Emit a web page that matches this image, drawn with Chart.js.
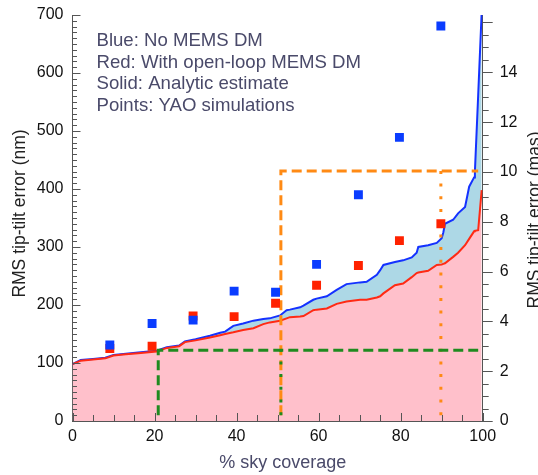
<!DOCTYPE html>
<html><head><meta charset="utf-8">
<script src="https://cdn.jsdelivr.net/npm/chart.js@4/dist/chart.umd.min.js"></script>
<style>html,body{margin:0;padding:0;background:#fff;overflow:hidden}canvas{display:block}</style>
</head><body>
<canvas id="c" width="538" height="475" style="width:538px;height:475px"></canvas>
<script>
// ---- data ----
const skyCoverage  = [0,2,5,8,10,13,16,20.5,23,26,27.4,30,33.5,36,37.2,39.2,41.6,44.1,46.5,48.1,50.6,52.2,53,55.5,56.3,58.7,59.5,62,64.4,66.8,70.1,71.7,74.2,75,75.8,78.6,80.6,82.7,83.9,84.3,86.7,88.8,90,90.4,90.8,92.8,94,95.7,96.7,97.9,98.1,98.9,99.75];
const blueAnalytic = [98,105,107,109,114,116,118,121,127,130,137,141,147,152,154,164,168,173,176,177,182,191,192,196,199,209,211,215,226,236,239,240,252,260,269,274,277,282,290,300,303,307,315,325,340,347,358,369,404,420,430,562,705];
const redAnalytic  = [98,104,106,108,113,115,117,120,126,129,136,139,144,148,150,153,157,160,167,170,173,177,179,180,181,191,192,194,202,206,209,209,213,215,220,234,237,248,255,256,259,269,270,271,272,283,290,303,314,327,328,329,398];
const simCoverage = [9.1,19.4,29.4,39.4,49.5,59.5,69.7,79.7,89.8];
const blueYao = [131,168,174,224,222,270,390,489,681];
const redYao  = [125,129,181,180,203,234,268,311,340];
const orangeBoxX = [50.8,50.8,98.9], orangeBoxY = [10,431,431];
const orangeDotX = [89.8,89.8],      orangeDotY = [10,431];
const greenBoxX  = [20.9,20.9,98.9], greenBoxY  = [10,122,122];
const greenDotX  = [50.8,50.8],      greenDotY  = [10,122];
const noteLines = ['Blue: No MEMS DM','Red: With open-loop MEMS DM','Solid: Analytic estimate','Points: YAO simulations'];
const xTitle = '% sky coverage';
const yTitle = 'RMS tip-tilt error (nm)';
const y2Title = 'RMS tip-tilt error (mas)';
const nmMax = 700, masMax = 16.3;

const pts = (xs, ys) => xs.map((v, i) => ({x: v, y: ys[i]}));
const FONT = '"Liberation Sans", Arial, Helvetica, sans-serif';

const deco = {
  id: 'deco',
  afterDraw(chart) {
    const {ctx, chartArea: a, scales: {x, y, y2}} = chart;
    ctx.save();
    ctx.strokeStyle = '#555'; ctx.lineWidth = 1;
    ctx.beginPath();
    for (let v = 0; v <= nmMax; v += 10) {
      const p = Math.round(y.getPixelForValue(v)) + 0.5;
      const L = v % 100 === 0 ? 8 : 4.5;
      ctx.moveTo(a.left, p); ctx.lineTo(a.left + L, p);
    }
    for (let v = 0; v <= 100; v += 5) {
      const p = Math.round(x.getPixelForValue(v)) + 0.5;
      const L = v % 20 === 0 ? 8 : 6;
      ctx.moveTo(p, a.bottom); ctx.lineTo(p, a.bottom - L);
    }
    for (let v = 0; v <= 16; v += 0.5) {
      const p = Math.round(y2.getPixelForValue(v)) + 0.5;
      const L = v % 2 === 0 ? 10 : 6;
      ctx.moveTo(a.right, p); ctx.lineTo(a.right + L, p);
    }
    ctx.stroke();
    // notes
    ctx.fillStyle = '#4a4a6a';
    ctx.font = '18.6px ' + FONT;
    ctx.textAlign = 'left'; ctx.textBaseline = 'alphabetic';
    const base = [46, 67.5, 89, 110.5];
    noteLines.forEach((t, i) => ctx.fillText(t, 96.5, base[i]));
    // x title
    ctx.font = '18px ' + FONT;
    ctx.textAlign = 'center';
    ctx.fillText(xTitle, 282.7, 468);
    // y titles
    ctx.fillStyle = '#222';
    ctx.font = '17.5px ' + FONT;
    ctx.save(); ctx.translate(25, 213.5); ctx.rotate(-Math.PI / 2); ctx.fillText(yTitle, 0, 0); ctx.restore();
    ctx.save(); ctx.translate(540, 220); ctx.rotate(-Math.PI / 2); ctx.fillText(y2Title, 0, 0); ctx.restore();
    ctx.restore();
  }
};

const vFit = w => s => { s.width = w; s.paddingTop = 0; s.paddingBottom = 0; };

new Chart(document.getElementById('c'), {
  type: 'line',
  data: {
    datasets: [
      {label: 'blueYao', type: 'scatter', data: pts(simCoverage, blueYao), pointStyle: 'rect', pointRadius: 6.3,
       backgroundColor: '#0a3cff', borderWidth: 0, order: 1, showLine: false},
      {label: 'redYao', type: 'scatter', data: pts(simCoverage, redYao), pointStyle: 'rect', pointRadius: 6.3,
       backgroundColor: '#ff2200', borderWidth: 0, order: 2, showLine: false},
      {label: 'orangeBox', data: pts(orangeBoxX, orangeBoxY), borderColor: '#ff8a14', borderWidth: 3,
       borderDash: [10, 5], pointRadius: 0, fill: false, order: 5},
      {label: 'orangeDot', data: pts(orangeDotX, orangeDotY), borderColor: '#ff8a14', borderWidth: 3,
       borderDash: [3, 9.7], pointRadius: 0, fill: false, order: 6},
      {label: 'greenBox', data: pts(greenBoxX, greenBoxY), borderColor: '#1f8a1f', borderWidth: 3,
       borderDash: [10, 5], pointRadius: 0, fill: false, order: 4},
      {label: 'greenDot', data: pts(greenDotX, greenDotY), borderColor: '#1f8a1f', borderWidth: 3,
       borderDash: [3, 9.7], pointRadius: 0, fill: false, order: 3},
      {label: 'redAnalytic', data: pts(skyCoverage, redAnalytic), borderColor: '#ff2a14', borderWidth: 2,
       backgroundColor: 'rgb(255,192,203)', fill: 'origin', pointRadius: 0, tension: 0, order: 7},
      {label: 'blueAnalytic', data: pts(skyCoverage, blueAnalytic), borderColor: '#1432ff', borderWidth: 2,
       backgroundColor: 'rgb(173,216,230)', fill: 6, pointRadius: 0, tension: 0, order: 8}
    ]
  },
  options: {
    responsive: false, animation: false, events: [],
    layout: {padding: {top: 15, left: 0, right: 0, bottom: 0}},
    plugins: {legend: {display: false}, tooltip: {enabled: false}, filler: {drawTime: 'beforeDatasetsDraw'}},
    scales: {
      x: {type: 'linear', min: 0, max: 100, position: 'bottom',
          afterFit: s => { s.height = 54; s.paddingLeft = 0; s.paddingRight = 0; },
          grid: {display: true, drawOnChartArea: false, drawTicks: false},
          border: {display: true, color: '#555', width: 1},
          ticks: {stepSize: 20, padding: 6, color: '#111', font: {family: FONT, size: 16}, maxRotation: 0}},
      y: {type: 'linear', min: 0, max: nmMax, position: 'left',
          afterFit: vFit(72.5),
          grid: {display: true, drawOnChartArea: false, drawTicks: false},
          border: {display: true, color: '#555', width: 1},
          ticks: {stepSize: 100, padding: 9, color: '#111', font: {family: FONT, size: 16}}},
      y2: {type: 'linear', min: 0, max: masMax, position: 'right',
          afterFit: vFit(55.3),
          afterBuildTicks: s => { s.ticks = s.ticks.filter(t => t.value <= 14 && Math.abs(t.value % 2) < 1e-9); },
          grid: {display: true, drawOnChartArea: false, drawTicks: false},
          border: {display: true, color: '#555', width: 1},
          ticks: {stepSize: 2, padding: 17, color: '#111', font: {family: FONT, size: 16}}}
    }
  },
  plugins: [deco]
});
</script>
</body></html>
